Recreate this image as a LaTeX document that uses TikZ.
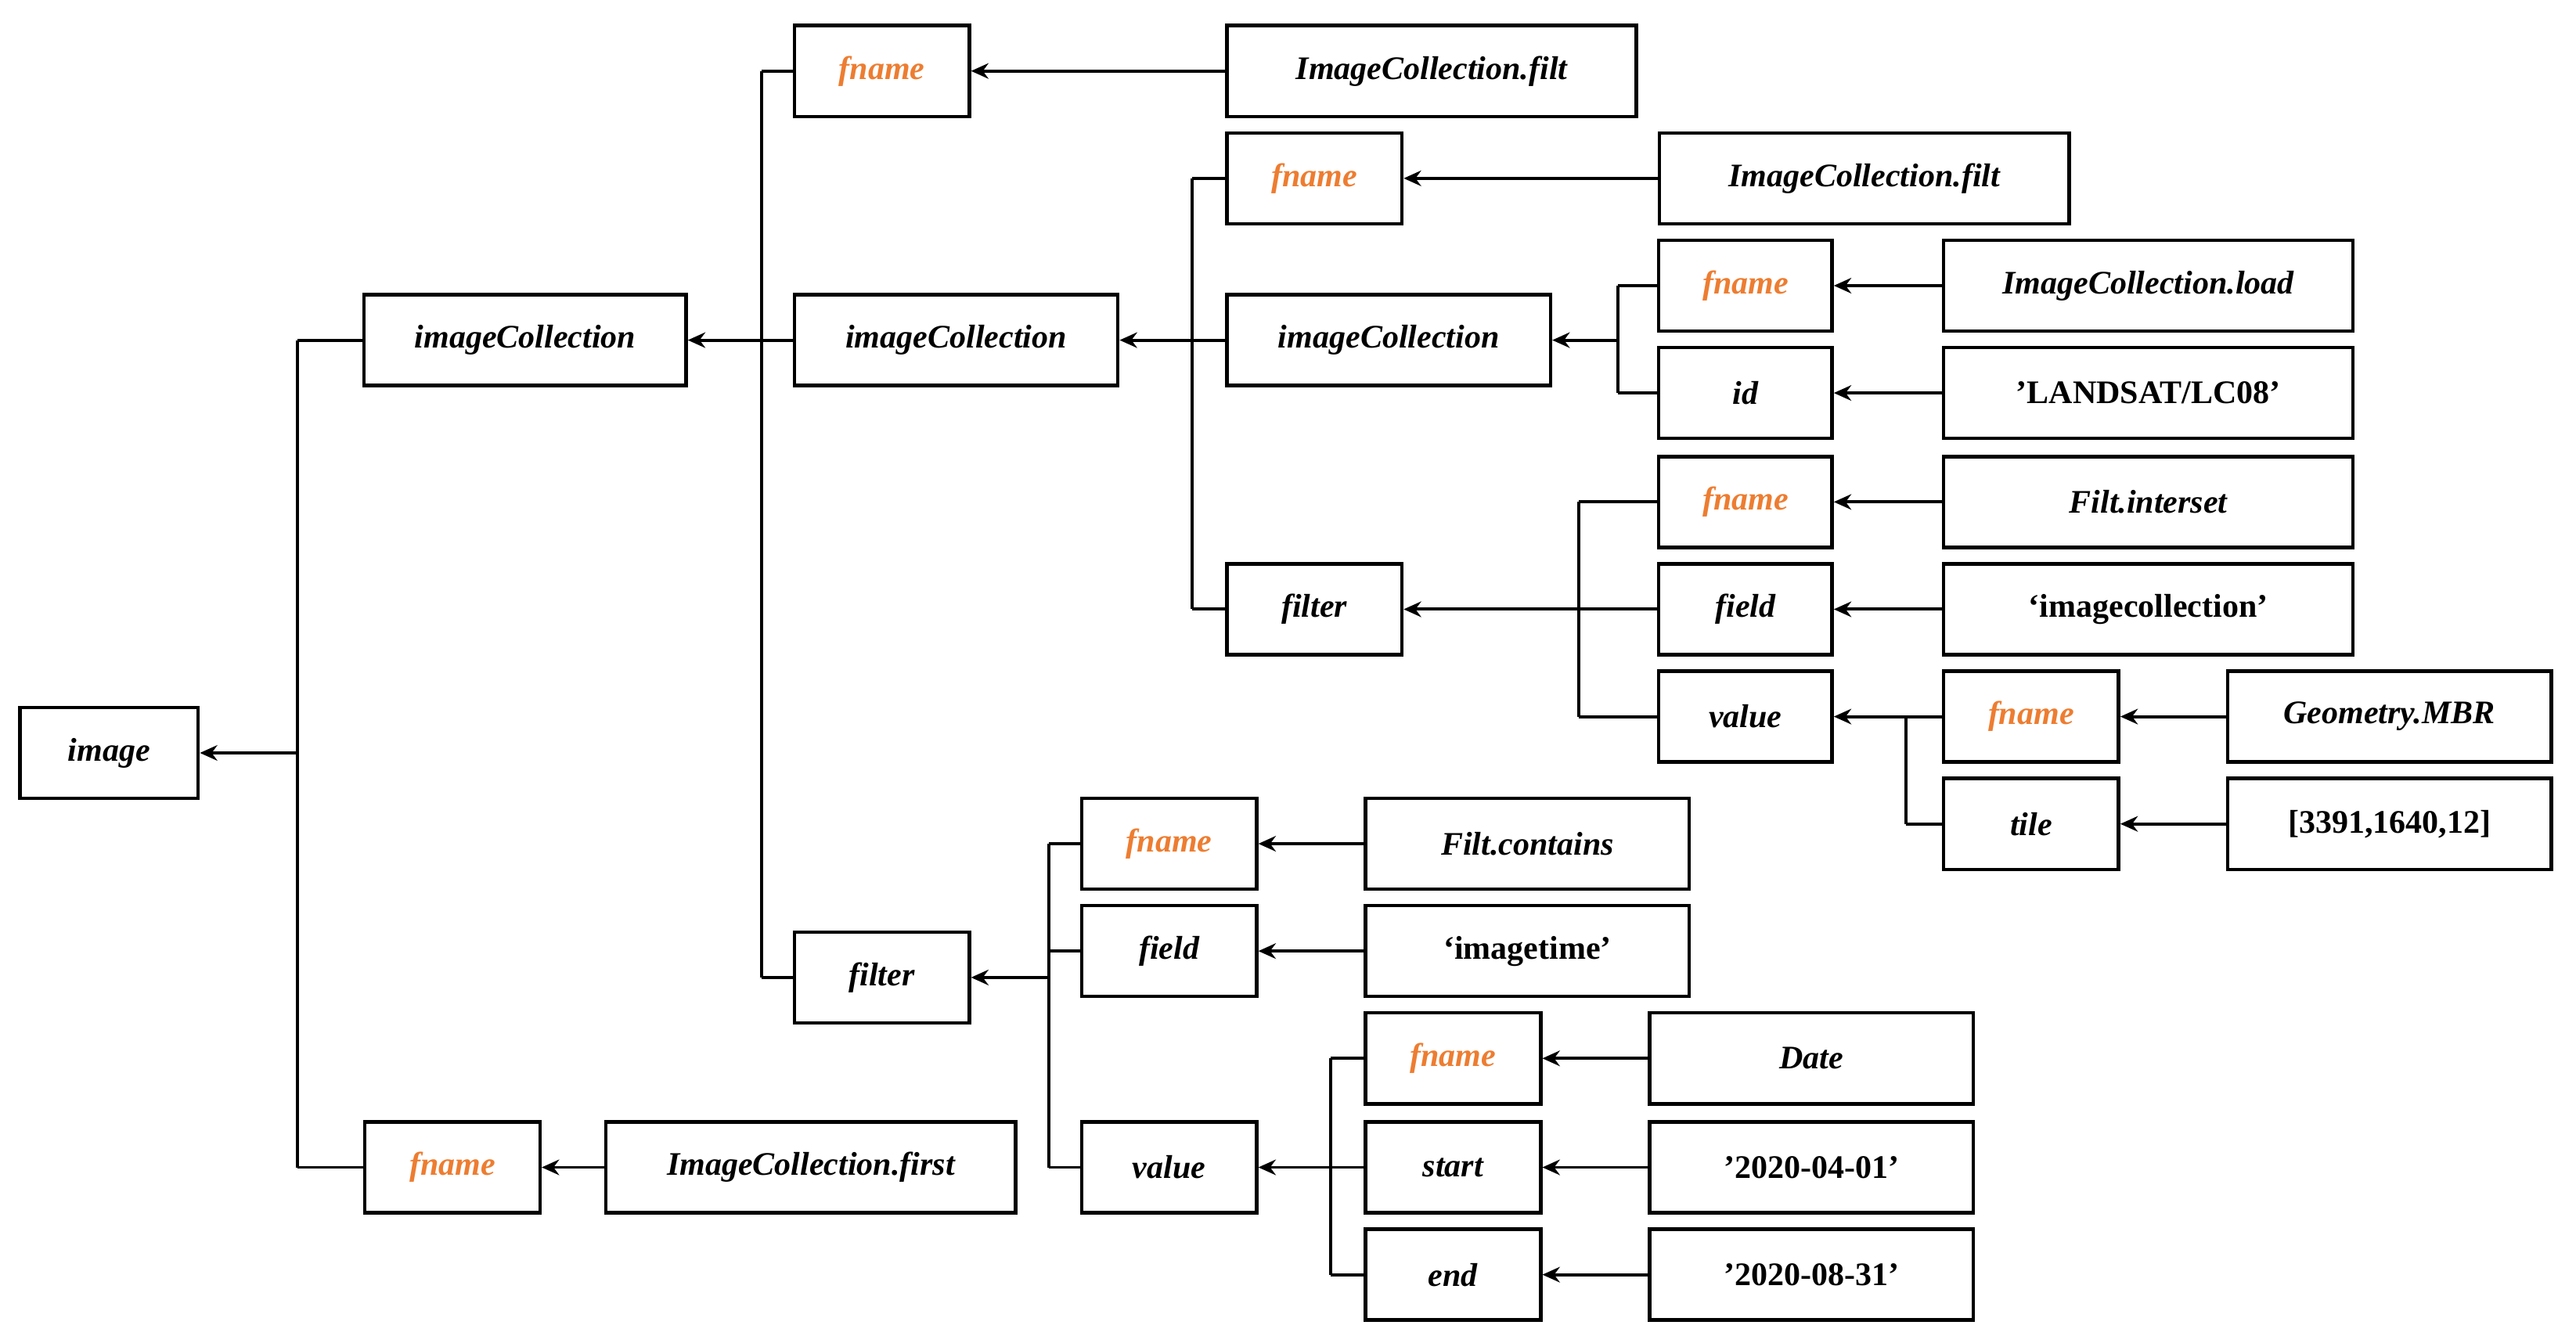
\documentclass[tikz,border=0pt]{standalone}
\usepackage{fontspec}
\setmainfont{Liberation Serif}
\usetikzlibrary{arrows.meta}
\definecolor{org}{RGB}{237,125,49}
\begin{document}
\begin{tikzpicture}[x=0.03cm,y=-0.03cm,
  bx/.style={draw,line width=1.8pt,inner sep=0pt,font=\fontsize{17}{20}\selectfont\bfseries\itshape},
  fn/.style={bx,text=org},
  up/.style={bx,font=\fontsize{17}{20}\selectfont\bfseries},
  ln/.style={line width=1.6pt},
  ar/.style={ln,-{Stealth[length=9pt,width=8pt]}}]
\useasboundingbox (0,0) rectangle (1560,809);
\newcommand\bx[7][bx]{\node[#1,minimum width=#5*0.03cm,minimum height=#6*0.03cm] (#2) at (#3,#4) {#7};}
\bx{image}{66}{456}{108}{55}{image}
\bx{ic1}{318}{206}{195}{55}{imageCollection}
\bx[fn]{fn1}{274}{707}{106}{55}{fname}
\bx{icf}{491}{707}{248}{55}{ImageCollection.first}
\bx[fn]{fn2}{534}{43}{106}{55}{fname}
\bx{icfilt}{867}{43}{248}{55}{ImageCollection.filt}
\bx{ic2}{579}{206}{196}{55}{imageCollection}
\bx{filt1}{534}{592}{106}{55}{filter}
\bx[fn]{fn3}{796}{108}{106}{55}{fname}
\bx{icfilt2}{1129}{108}{248}{55}{ImageCollection.filt}
\bx{ic3}{841}{206}{196}{55}{imageCollection}
\bx[fn]{fn4}{1057}{173}{105}{55}{fname}
\bx{icload}{1301}{173}{248}{55}{ImageCollection.load}
\bx{id}{1057}{238}{105}{55}{id}
\bx[up]{land}{1301}{238}{248}{55}{'LANDSAT/LC08'}
\bx{filt2}{796}{369}{106}{55}{filter}
\bx[fn]{fn5}{1057}{304}{105}{55}{fname}
\bx{inter}{1301}{304}{248}{55}{Filt.interset}
\bx{field1}{1057}{369}{105}{55}{field}
\bx[up]{imcol}{1301}{369}{248}{55}{‘imagecollection’}
\bx{val1}{1057}{434}{105}{55}{value}
\bx[fn]{fn6}{1230}{434}{106}{55}{fname}
\bx{geo}{1447}{434}{196}{55}{Geometry.MBR}
\bx{tile}{1230}{499}{106}{55}{tile}
\bx[up]{tnum}{1447}{499}{196}{55}{[3391,1640,12]}
\bx[fn]{fn7}{708}{511}{106}{55}{fname}
\bx{cont}{925}{511}{196}{55}{Filt.contains}
\bx{field2}{708}{576}{106}{55}{field}
\bx[up]{imt}{925}{576}{196}{55}{‘imagetime’}
\bx{val2}{708}{707}{106}{55}{value}
\bx[fn]{fn8}{880}{641}{106}{55}{fname}
\bx{date}{1097}{641}{196}{55}{Date}
\bx{start}{880}{707}{106}{55}{start}
\bx[up]{d1}{1097}{707}{196}{55}{'2020-04-01'}
\bx{end}{880}{772}{106}{55}{end}
\bx[up]{d2}{1097}{772}{196}{55}{'2020-08-31'}
% leaf arrows
\foreach \a/\b in {icf/fn1,icfilt/fn2,icfilt2/fn3,icload/fn4,land/id,inter/fn5,imcol/field1,geo/fn6,tnum/tile,cont/fn7,imt/field2,date/fn8,d1/start,d2/end}
  \draw[ar] (\a.west) -- (\b.east);
% buses: parent / busx / top child / bottom child / children
\newcommand\bus[5]{%
  \coordinate (X) at (#2,0);
  \draw[ln] (#3.west -| X) -- (#4.west -| X);
  \foreach \c in {#5} \draw[ln] (\c.west) -- (\c.west -| X);
  \draw[ar] (#1.east -| X) -- (#1.east);}
\bus{image}{180}{ic1}{fn1}{ic1,fn1}
\bus{ic1}{461}{fn2}{filt1}{fn2,ic2,filt1}
\bus{ic2}{722}{fn3}{filt2}{fn3,ic3,filt2}
\bus{ic3}{980}{fn4}{id}{fn4,id}
\bus{filt2}{956}{fn5}{val1}{fn5,field1,val1}
\bus{val1}{1154}{fn6}{tile}{fn6,tile}
\bus{filt1}{635}{fn7}{val2}{fn7,field2,val2}
\bus{val2}{806}{fn8}{end}{fn8,start,end}
\end{tikzpicture}
\end{document}
